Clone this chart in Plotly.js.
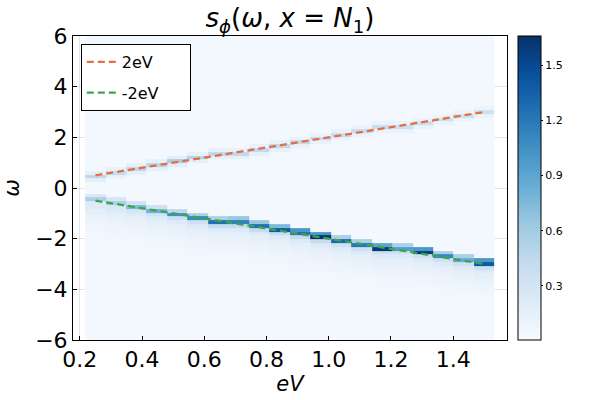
<!DOCTYPE html>
<html>
<head>
<meta charset="utf-8">
<script src="https://cdn.plot.ly/plotly-3.0.1.min.js"></script>
<style>html,body{margin:0;padding:0;background:#fff;}#plot{width:600px;height:400px;}</style>
</head>
<body>
<div id="plot"></div>
<script>
// Column centres (eV)
const eV = [0.250,0.316,0.382,0.447,0.513,0.579,0.645,0.711,0.776,0.842,0.908,0.974,1.039,1.105,1.171,1.237,1.303,1.368,1.434,1.500];
// omega grid rows
const omega = [];
for (let k = 0; k <= 80; k++) omega.push(+(-6 + 0.15 * k).toFixed(2));
// Positions of the upper and lower bands
const upperOmega = [0.50,0.63,0.76,0.89,1.03,1.16,1.29,1.42,1.55,1.68,1.82,1.95,2.08,2.21,2.34,2.47,2.61,2.74,2.87,3.00];
const lowerOmega = [-0.50,-0.63,-0.76,-0.89,-1.03,-1.16,-1.29,-1.42,-1.55,-1.68,-1.82,-1.95,-2.08,-2.21,-2.34,-2.47,-2.61,-2.74,-2.87,-3.00];
// Lower band intensities: row on the line, row above, row below
const lowPeak  = [0.55,0.55,0.75,0.80,1.05,1.10,1.25,1.15,1.25,1.40,1.25,1.65,1.30,1.20,1.60,0.95,1.60,1.10,0.85,1.40];
const lowAbove = [0.25,0.28,0.32,0.35,0.45,0.55,0.55,0.65,0.65,0.75,1.00,1.00,0.55,0.55,0.90,0.55,1.00,0.55,0.55,1.00];
const lowBelow = [0.22,0.25,0.28,0.32,0.35,0.35,0.40,0.40,0.40,0.40,0.40,0.40,0.35,0.35,0.35,0.35,0.35,0.35,0.35,0.35];
// Fading tail under the lower band
const lowTail = [0.22,0.16,0.13,0.11,0.09,0.08,0.07,0.06,0.055,0.05];
// Upper band intensities
const upPeak  = [0.45,0.40,0.45,0.48,0.58,0.52,0.46,0.44,0.44,0.46,0.42,0.42,0.40,0.40,0.40,0.36,0.36,0.36,0.34,0.34];
const upSide  = [0.15,0.14,0.15,0.15,0.17,0.15,0.14,0.13,0.13,0.13,0.12,0.12,0.12,0.12,0.12,0.11,0.11,0.11,0.10,0.10];
// Background level per column
const bgCol = [0.05,0.045,0.045,0.045,0.05,0.045,0.045,0.045,0.04,0.05,0.045,0.04,0.045,0.04,0.05,0.045,0.045,0.04,0.045,0.05];
// Dashed reference lines
const lineEV = [0.25, 1.50];
const plus2eV = [0.50, 3.00];
const minus2eV = [-0.50, -3.00];
const cbTicks = [0.3,0.6,0.9,1.2,1.5];

// Build z matrix (rows = omega, cols = eV)
const nR = omega.length, nC = eV.length;
const z = [];
for (let r = 0; r < nR; r++) { z.push(new Array(nC).fill(0)); }
function rowOf(w){ return Math.round((w - omega[0]) / 0.15); }
for (let c = 0; c < nC; c++) {
  for (let r = 0; r < nR; r++) z[r][c] = bgCol[c];
  const kl = rowOf(lowerOmega[c]);
  z[kl][c] = lowPeak[c];
  if (kl + 1 < nR) z[kl + 1][c] = lowAbove[c];
  if (kl - 1 >= 0) z[kl - 1][c] = lowBelow[c];
  for (let t = 0; t < lowTail.length; t++) { const r = kl - 2 - t; if (r >= 0) z[r][c] = Math.max(z[r][c], lowTail[t]); }
  const ku = rowOf(upperOmega[c]);
  z[ku][c] = upPeak[c];
  if (ku + 1 < nR) z[ku + 1][c] = Math.max(z[ku + 1][c], upSide[c]);
  if (ku - 1 >= 0) z[ku - 1][c] = Math.max(z[ku - 1][c], upSide[c]);
}

const blues = [[0,'#f7fbff'],[0.125,'#deebf7'],[0.25,'#c6dbef'],[0.375,'#9ecae1'],[0.5,'#6baed6'],[0.625,'#4292c6'],[0.75,'#2171b5'],[0.875,'#08519c'],[1,'#08306b']];

const font = 'DejaVu Sans, sans-serif';
const data = [
  {type:'heatmap', x:eV, y:omega, z:z, colorscale:blues, zmin:0.005, zmax:1.66, showscale:true, hoverinfo:'skip',
   colorbar:{x:1.025, xanchor:'left', y:0.5, yanchor:'middle', len:1, lenmode:'fraction', thickness:23, thicknessmode:'pixels',
             xpad:0, ypad:0, outlinewidth:1, outlinecolor:'#000', tickvals:cbTicks, ticktext:cbTicks.map(v=>v.toFixed(1)),
             ticks:'outside', ticklen:2, tickcolor:'#000', tickfont:{family:font, size:11, color:'#000'}}},
  {type:'scatter', mode:'lines', x:lineEV, y:plus2eV, name:'2eV&nbsp;&nbsp;&nbsp;&nbsp;&nbsp;', legendgroup:'a', line:{color:'#E36F47', width:2.3, dash:'7px,4px'}},
  {type:'scatter', mode:'lines', x:lineEV, y:minus2eV, name:'-2eV&nbsp;&nbsp;&nbsp;&nbsp;&nbsp;', legendgroup:'b', line:{color:'#3EA44E', width:2.3, dash:'7px,4px'}}
];
const layout = {
  width:600, height:400, margin:{l:73, r:93, t:36, b:60}, paper_bgcolor:'#fff', plot_bgcolor:'#fff',
  title:{text:'<i>s</i><sub><i>ϕ</i></sub>(<i>ω</i>, <i>x</i> = <i>N</i><sub>1</sub>)', x:0.5, xref:'paper', xanchor:'center', y:0.955, yref:'container', yanchor:'middle', font:{family:font, size:26, color:'#000'}},
  xaxis:{range:[0.178,1.573], tickvals:[0.2,0.4,0.6,0.8,1.0,1.2,1.4], ticktext:['0.2','0.4','0.6','0.8','1.0','1.2','1.4'],
         ticks:'inside', ticklen:4, tickcolor:'#000', showline:true, mirror:true, linecolor:'#000', linewidth:1,
         showgrid:true, gridcolor:'rgba(0,0,0,0.1)', zeroline:false, tickfont:{family:font, size:22, color:'#000'},
         title:{text:'<i>eV</i>', font:{family:font, size:21, color:'#000'}, standoff:4}},
  yaxis:{range:[-6,6], tickvals:[-6,-4,-2,0,2,4,6], ticks:'inside', ticklen:4, tickcolor:'#000', showline:true, mirror:true, linecolor:'#000', linewidth:1,
         showgrid:true, gridcolor:'rgba(0,0,0,0.1)', zeroline:false, tickfont:{family:font, size:22, color:'#000'},
         title:{text:'<i>ω</i>', font:{family:font, size:21, color:'#000'}, standoff:10}},
  legend:{x:0.018, y:0.974, xanchor:'left', yanchor:'top', bgcolor:'#fff', bordercolor:'#000', borderwidth:1,
          font:{family:font, size:16, color:'#000'}, tracegroupgap:7},
  showlegend:true
};
Plotly.newPlot('plot', data, layout, {staticPlot:true, displayModeBar:false});
</script>
</body>
</html>
